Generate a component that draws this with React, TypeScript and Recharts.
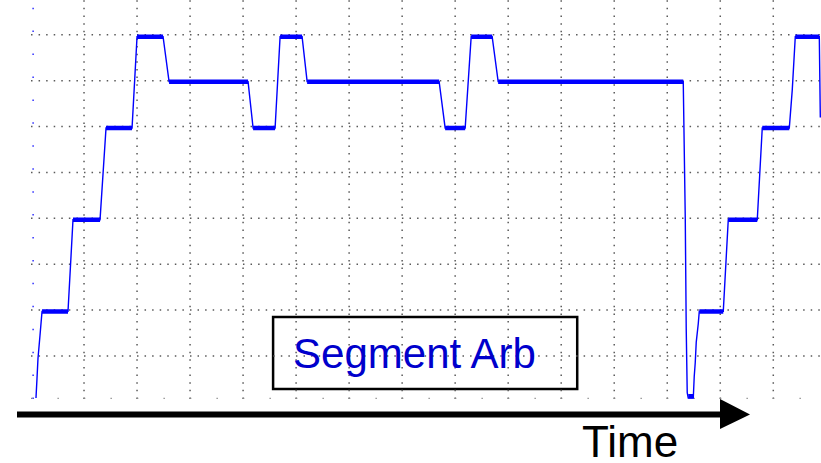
import React from "react";
import {
  LineChart,
  Line,
  XAxis,
  YAxis,
  ReferenceLine,
  ReferenceArea,
  Label,
  Customized,
} from "recharts";

// Time axis in grid divisions, level axis in grid divisions
const traceTime = [
  0.094, 0.113, 0.132, 0.17, 0.208, 0.698, 0.792, 1.302, 1.415, 1.906, 2.0,
  2.491, 2.604, 4.094, 4.189, 4.604, 4.698, 5.113, 5.208, 7.698, 7.811, 8.189,
  8.302, 8.698, 8.811, 12.302, 12.34, 12.358, 12.377, 12.396, 12.491, 12.509,
  12.528, 12.547, 12.585, 12.604, 13.057, 13.151, 13.698, 13.792, 14.302,
  14.358, 14.415, 14.868, 14.887,
];
const traceLevel = [
  0.08, 0.5, 0.95, 1.45, 1.97, 1.97, 3.97, 3.97, 5.97, 5.97, 7.96, 7.96, 6.98,
  6.98, 5.97, 5.97, 7.96, 7.96, 6.98, 6.98, 5.97, 5.97, 7.96, 7.96, 6.98, 6.98,
  4.0, 1.59, 0.2, 0.08, 0.08, 0.55, 0.85, 1.3, 1.7, 1.97, 1.97, 3.97, 3.97,
  5.97, 5.97, 6.8, 7.96, 7.96, 6.2,
];

// Noisy plateaus: start, end, level
const plateauStart = [
  0.208, 0.792, 1.415, 2.0, 2.604, 4.189, 4.698, 5.208, 7.811, 8.302, 8.811,
  12.396, 12.604, 13.151, 13.792, 14.415,
];
const plateauEnd = [
  0.698, 1.302, 1.906, 2.491, 4.094, 4.604, 5.113, 7.698, 8.189, 8.698, 12.302,
  12.491, 13.057, 13.698, 14.302, 14.868,
];
const plateauLevel = [
  1.97, 3.97, 5.97, 7.96, 6.98, 5.97, 7.96, 6.98, 5.97, 7.96, 6.98, 0.12, 1.97,
  3.97, 5.97, 7.96,
];

const verticalGrid = [1, 2, 3, 4, 5, 6, 7, 8, 9, 10, 11, 12, 13, 14];
const horizontalGrid = [1, 2, 3, 4, 5, 6, 7, 8];

const boxLabel = "Segment Arb";
const axisLabel = "Time";

const traceData = traceTime.map((t, i) => ({ t, v: traceLevel[i] }));
const bandData: { t: number; v: number | null }[] = [];
plateauStart.forEach((s, i) => {
  bandData.push({ t: s, v: plateauLevel[i] });
  bandData.push({ t: plateauEnd[i], v: plateauLevel[i] });
  if (i < plateauStart.length - 1) {
    bandData.push({ t: (plateauEnd[i] + plateauStart[i + 1]) / 2, v: null });
  }
});

const FONT = "'Liberation Sans', Arial, Helvetica, sans-serif";
const BLUE = "#0000ff";

const Annotations = () => (
  <g>
    <line x1={17} y1={414.5} x2={722} y2={414.5} stroke="#000" strokeWidth={6} />
    <polygon points="720,399 750,414.5 720,429" fill="#000" />
    <text x={582} y={457} fontSize={44} fontFamily={FONT} fill="#000">
      {axisLabel}
    </text>
  </g>
);

export default function App() {
  return (
    <div style={{ position: "absolute", left: 0, top: 0, background: "#fff" }}>
      <LineChart
        width={821}
        height={463}
        margin={{ top: 0, right: 0, left: 31, bottom: 64 }}
      >
        <XAxis
          type="number"
          dataKey="t"
          domain={[0, 14.9]}
          allowDataOverflow
          hide
        />
        <YAxis type="number" domain={[0.06, 8.76]} allowDataOverflow hide />
        {verticalGrid.map((x) => (
          <ReferenceLine
            key={"vx" + x}
            x={x}
            stroke="#5a5a5a"
            strokeWidth={1.5}
            strokeDasharray="1.5 6.14"
          />
        ))}
        {horizontalGrid.map((y) => (
          <ReferenceLine
            key={"hy" + y}
            y={y}
            stroke="#5a5a5a"
            strokeWidth={1.5}
            strokeDasharray="1.5 6.07"
          />
        ))}
        <ReferenceLine
          x={0.04}
          stroke="#3030ff"
          strokeWidth={1.5}
          strokeDasharray="1.5 21.43"
        />
        <ReferenceLine
          y={0.075}
          stroke="#888"
          strokeWidth={1.3}
          strokeDasharray="1.3 25.2"
        />
        <ReferenceArea
          x1={4.566}
          x2={10.302}
          y1={0.278}
          y2={1.848}
          stroke="#000"
          strokeWidth={2.5}
          fill="#fff"
          fillOpacity={0.6}
        >
          <Label
            value={boxLabel}
            position="insideLeft"
            offset={20}
            fill="#0000cc"
            fontSize={42}
            fontFamily={FONT}
          />
        </ReferenceArea>
        <Line
          data={traceData}
          dataKey="v"
          type="linear"
          stroke={BLUE}
          strokeWidth={1.4}
          dot={false}
          activeDot={false}
          isAnimationActive={false}
        />
        <Line
          data={bandData}
          dataKey="v"
          type="linear"
          stroke={BLUE}
          strokeWidth={4.5}
          connectNulls={false}
          dot={false}
          activeDot={false}
          isAnimationActive={false}
        />
        <Customized component={<Annotations />} />
      </LineChart>
    </div>
  );
}
